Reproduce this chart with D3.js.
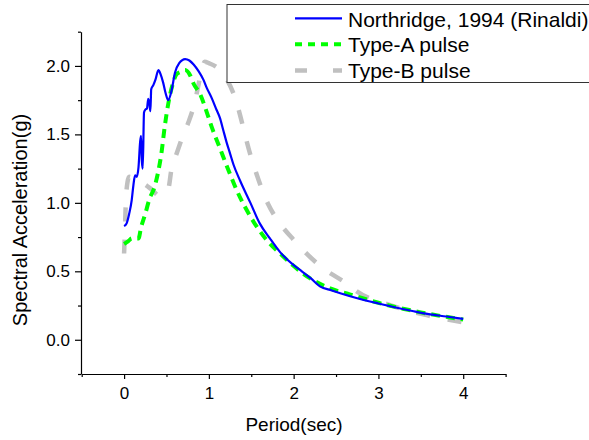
<!DOCTYPE html>
<html>
<head>
<meta charset="utf-8">
<script src="https://cdn.jsdelivr.net/npm/d3@7"></script>
<style>
  body { margin: 0; background: #fff; }
  svg { font-family: Arial, "Liberation Sans", sans-serif; }
</style>
</head>
<body>
<div id="chart"></div>
<script>
// periods (sec) and spectral acceleration (g)
var rinaldiT  = [0.00,0.03,0.06,0.09,0.11,0.13,0.15,0.17,0.19,0.20,0.21,0.22,0.235,0.25,0.27,0.285,0.30,0.31,0.32,0.345,0.37,0.405,0.43,0.46,0.49,0.52,0.56,0.60,0.65,0.72,0.77,0.82,0.88,0.935,0.975,1.03,1.09,1.13,1.17,1.21,1.25,1.29,1.37,1.49,1.60,1.72,1.84,2.0,2.075,2.2,2.31,2.45,2.55,2.74,3.0,3.14,3.4,3.61,3.8,4.0];
var rinaldiSa = [0.83,0.85,0.92,1.02,1.13,1.20,1.19,1.26,1.45,1.49,1.30,1.25,1.66,1.68,1.69,1.76,1.72,1.67,1.83,1.86,1.90,1.97,1.94,1.88,1.80,1.75,1.82,1.95,2.02,2.05,2.04,2.01,1.96,1.90,1.84,1.77,1.68,1.62,1.53,1.44,1.36,1.28,1.16,1.00,0.85,0.74,0.64,0.545,0.51,0.45,0.39,0.36,0.34,0.305,0.265,0.245,0.21,0.185,0.17,0.153];

var typeAT  = [0.00,0.05,0.09,0.13,0.17,0.20,0.25,0.30,0.35,0.40,0.44,0.48,0.52,0.57,0.62,0.68,0.72,0.78,0.82,0.90,0.96,1.03,1.13,1.23,1.33,1.49,1.68,1.84,1.96,2.19,2.43,2.67,3.0,3.5,4.0];
var typeASa = [0.70,0.72,0.74,0.74,0.74,0.82,0.92,1.03,1.10,1.22,1.36,1.56,1.72,1.86,1.94,1.96,1.97,1.93,1.87,1.79,1.69,1.56,1.40,1.24,1.09,0.90,0.73,0.63,0.56,0.45,0.375,0.33,0.27,0.20,0.148];

var typeBT  = [0.00,0.01,0.02,0.04,0.06,0.15,0.23,0.32,0.42,0.46,0.52,0.56,0.62,0.70,0.76,0.84,0.88,0.92,0.95,1.00,1.13,1.29,1.50,1.70,1.85,2.0,2.31,2.67,2.74,3.06,3.53,4.0];
var typeBSa = [0.63,0.80,1.00,1.15,1.19,1.16,1.14,1.10,1.05,1.07,1.10,1.25,1.36,1.50,1.59,1.75,1.87,1.98,2.03,2.02,1.97,1.80,1.33,0.99,0.84,0.73,0.54,0.39,0.355,0.27,0.185,0.128];

var seriesNames = ["Northridge, 1994 (Rinaldi)", "Type-A pulse", "Type-B pulse"];
var xMajor = [0, 1, 2, 3, 4];
var xMinor = [-0.5, 0.5, 1.5, 2.5, 3.5, 4.5];
var yMajor = [0, 0.5, 1.0, 1.5, 2.0];
var yMinor = [-0.25, 0.25, 0.75, 1.25, 1.75, 2.25];

var width = 589, height = 440;
var svg = d3.select("#chart").append("svg")
    .attr("width", width)
    .attr("height", height);

var x = d3.scaleLinear().domain([-0.5, 4.5]).range([81.7, 505.6]);
var y = d3.scaleLinear().domain([-0.25, 2.25]).range([374, 31.7]);

// axes
var xAxis = svg.append("g").attr("transform", "translate(0,374)")
    .call(d3.axisBottom(x).tickValues(xMajor).tickSize(5).tickSizeOuter(0).tickPadding(8)
        .tickFormat(d3.format("d")));
svg.append("g").attr("transform", "translate(0,374)")
    .call(d3.axisBottom(x).tickValues(xMinor).tickSize(3).tickSizeOuter(0).tickFormat(""))
    .select(".domain").remove();

var yAxis = svg.append("g").attr("transform", "translate(81,0)")
    .call(d3.axisLeft(y).tickValues(yMajor).tickSize(6).tickSizeOuter(0).tickPadding(5)
        .tickFormat(d3.format(".1f")));
svg.append("g").attr("transform", "translate(81,0)")
    .call(d3.axisLeft(y).tickValues(yMinor).tickSize(3).tickSizeOuter(0).tickFormat(""))
    .select(".domain").remove();

svg.selectAll(".tick text")
    .style("font-family", "Arial, 'Liberation Sans', sans-serif")
    .style("font-size", "17px")
    .attr("fill", "#000");
svg.selectAll(".domain, .tick line").attr("stroke", "#000").attr("stroke-width", 1.2);

// axis titles
svg.append("text")
    .attr("x", 294)
    .attr("y", 431)
    .attr("text-anchor", "middle")
    .style("font-size", "19px")
    .text("Period(sec)");

svg.append("text")
    .attr("transform", "translate(27,220) rotate(-90)")
    .attr("text-anchor", "middle")
    .style("font-size", "20px")
    .text("Spectral Acceleration(g)");

// curves
var line = d3.line()
    .x(function(d) { return x(d[0]); })
    .y(function(d) { return y(d[1]); })
    .curve(d3.curveMonotoneX);

var series = [
    { t: typeBT, sa: typeBSa, color: "#c0c0c0", w: 4.5, dash: "14,18" },
    { t: typeAT, sa: typeASa, color: "#00ff00", w: 4, dash: "9,6" },
    { t: rinaldiT, sa: rinaldiSa, color: "#0000ff", w: 2.2, dash: null }
];

series.forEach(function(s) {
    var pts = s.t.map(function(t, i) { return [t, s.sa[i]]; });
    svg.append("path")
        .datum(pts)
        .attr("d", line)
        .attr("fill", "none")
        .attr("stroke", s.color)
        .attr("stroke-width", s.w)
        .attr("stroke-dasharray", s.dash);
});

// legend
svg.append("rect")
    .attr("x", 227)
    .attr("y", 4.5)
    .attr("width", 400)
    .attr("height", 78)
    .attr("fill", "#fff")
    .attr("stroke", "#333")
    .attr("stroke-width", 1);

var legendRows = [
    { name: seriesNames[0], color: "#0000ff", w: 2.2, dash: null, ly: 18.3, ty: 26.5 },
    { name: seriesNames[1], color: "#00ff00", w: 4, dash: "7,6", ly: 44.2, ty: 52.3 },
    { name: seriesNames[2], color: "#c0c0c0", w: 4.5, dash: "12,26", ly: 70.5, ty: 78.3 }
];

legendRows.forEach(function(r) {
    svg.append("line")
        .attr("x1", 295).attr("x2", 342)
        .attr("y1", r.ly).attr("y2", r.ly)
        .attr("stroke", r.color)
        .attr("stroke-width", r.w)
        .attr("stroke-dasharray", r.dash);
    svg.append("text")
        .attr("x", 348)
        .attr("y", r.ty)
        .style("font-size", "21px")
        .text(r.name);
});
</script>
</body>
</html>
